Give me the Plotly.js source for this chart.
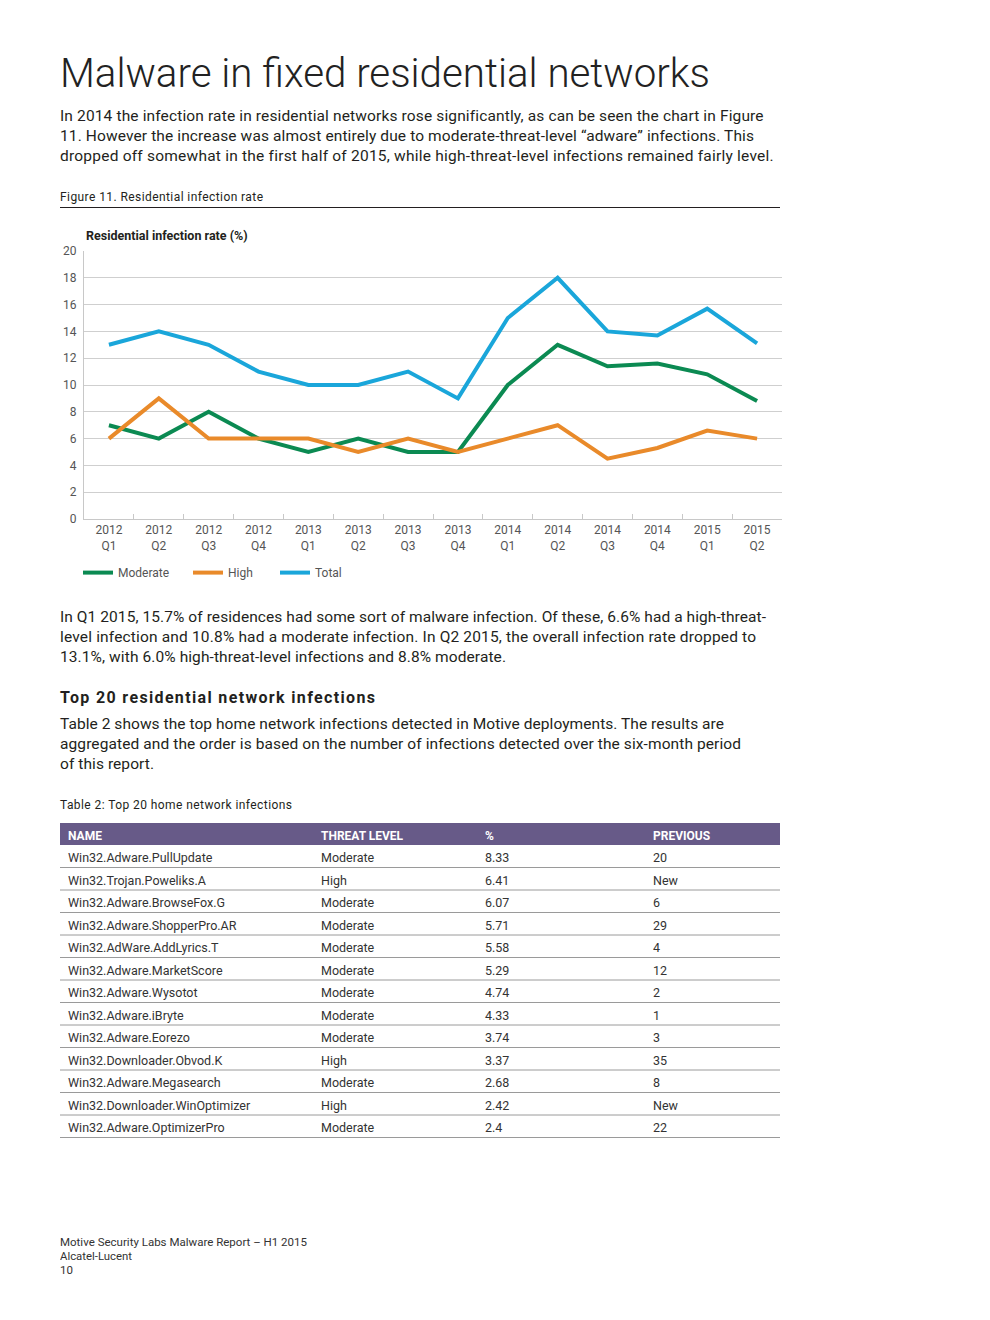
<!DOCTYPE html>
<html><head><meta charset="utf-8">
<script src="https://cdn.plot.ly/plotly-3.0.1.min.js"></script>
<style>
html,body{margin:0;padding:0;background:#fff;}
#page{position:relative;width:990px;height:1320px;overflow:hidden;font-family:Roboto,"Noto Sans",sans-serif;color:#231f20;}
.ln{position:absolute;white-space:nowrap;display:inline-block;transform-origin:0 50%;}
.body{font-size:15.5px;line-height:20px;height:20px;}
.cap{font-size:12px;line-height:16px;height:16px;color:#231f20;}
.foot{font-size:11.5px;line-height:14px;height:14px;color:#333;}
#chart{position:absolute;left:0;top:220px;width:990px;height:370px;}
#table{position:absolute;left:0;top:815px;width:990px;height:330px;}
</style></head>
<body><div id="page">
<div class="ln" style="left:60px;top:49px;font-size:41px;line-height:48px;font-weight:300;color:#222;" data-w="650">Malware in fixed residential networks</div>
<div class="ln body" style="left:60px;top:106px;" data-w="703">In 2014 the infection rate in residential networks rose significantly, as can be seen the chart in Figure</div>
<div class="ln body" style="left:60px;top:126px;" data-w="694">11. However the increase was almost entirely due to moderate-threat-level “adware” infections. This</div>
<div class="ln body" style="left:60px;top:146px;" data-w="713">dropped off somewhat in the first half of 2015, while high-threat-level infections remained fairly level.</div>
<div class="ln cap" style="left:60px;top:189px;" data-w="203">Figure 11. Residential infection rate</div>
<div style="position:absolute;left:60px;top:207px;width:720px;height:1px;background:#231f20;"></div>
<div id="chart"></div>
<div class="ln body" style="left:60px;top:607px;" data-w="706">In Q1 2015, 15.7% of residences had some sort of malware infection. Of these, 6.6% had a high-threat-</div>
<div class="ln body" style="left:60px;top:627px;" data-w="696">level infection and 10.8% had a moderate infection. In Q2 2015, the overall infection rate dropped to</div>
<div class="ln body" style="left:60px;top:647px;" data-w="446">13.1%, with 6.0% high-threat-level infections and 8.8% moderate.</div>
<div class="ln body" style="left:60px;top:688px;font-weight:700;font-size:16px;" data-w="315">Top 20 residential network infections</div>
<div class="ln body" style="left:60px;top:714px;" data-w="664">Table 2 shows the top home network infections detected in Motive deployments. The results are</div>
<div class="ln body" style="left:60px;top:734px;" data-w="681">aggregated and the order is based on the number of infections detected over the six-month period</div>
<div class="ln body" style="left:60px;top:754px;" data-w="94">of this report.</div>
<div class="ln cap" style="left:60px;top:797px;" data-w="232">Table 2: Top 20 home network infections</div>
<div id="table"></div>
<div class="ln foot" style="left:60px;top:1235px;" data-w="247">Motive Security Labs Malware Report – H1 2015</div>
<div class="ln foot" style="left:60px;top:1249px;" data-w="72">Alcatel-Lucent</div>
<div class="ln foot" style="left:60px;top:1263px;" data-w="13">10</div>
</div>
<script>
// ---- chart data ----
const quarters = ['2012<br>Q1','2012<br>Q2','2012<br>Q3','2012<br>Q4','2013<br>Q1','2013<br>Q2','2013<br>Q3','2013<br>Q4','2014<br>Q1','2014<br>Q2','2014<br>Q3','2014<br>Q4','2015<br>Q1','2015<br>Q2'];
const moderate = [7, 6, 8, 6, 5, 6, 5, 5, 10, 13, 11.4, 11.6, 10.8, 8.8];
const high     = [6, 9, 6, 6, 6, 5, 6, 5, 6, 7, 4.5, 5.3, 6.6, 6.0];
const total    = [13, 14, 13, 11, 10, 10, 11, 9, 15, 18, 14, 13.7, 15.7, 13.1];
const seriesNames = ['Moderate','High','Total'];
const yTicks = [0,2,4,6,8,10,12,14,16,18,20];
const chartTitle = 'Residential infection rate (%)';

// ---- table data ----
const tableHeader = ['NAME','THREAT LEVEL','%','PREVIOUS'];
const names = ['Win32.Adware.PullUpdate','Win32.Trojan.Poweliks.A','Win32.Adware.BrowseFox.G','Win32.Adware.ShopperPro.AR','Win32.AdWare.AddLyrics.T','Win32.Adware.MarketScore','Win32.Adware.Wysotot','Win32.Adware.iBryte','Win32.Adware.Eorezo','Win32.Downloader.Obvod.K','Win32.Adware.Megasearch','Win32.Downloader.WinOptimizer','Win32.Adware.OptimizerPro'];
const threat = ['Moderate','High','Moderate','Moderate','Moderate','Moderate','Moderate','Moderate','Moderate','High','Moderate','High','Moderate'];
const pct = ['8.33','6.41','6.07','5.71','5.58','5.29','4.74','4.33','3.74','3.37','2.68','2.42','2.4'];
const previous = ['20','New','6','29','4','12','2','1','3','35','8','New','22'];

const colors = ['#0b8a52','#e98a2a','#1aa6da'];
const font = 'Roboto, "Noto Sans", sans-serif';
const series = [moderate, high, total];
const legendIds = ['legend','legend2','legend3'];
const legendX = [-0.0086, 0.149, 0.2736];

const traces = series.map((vals, i) => ({
  type:'scatter', mode:'lines', x:quarters, y:vals, name:seriesNames[i],
  line:{color:colors[i], width:4}, legend:legendIds[i], hoverinfo:'skip'
}));

const layout = {
  width:990, height:370,
  margin:{l:84, r:208, t:31, b:71, autoexpand:false},
  paper_bgcolor:'#fff', plot_bgcolor:'#fff',
  font:{family:font, size:12, color:'#555'},
  showlegend:true,
  xaxis:{type:'category', range:[-0.5, quarters.length-0.5], showgrid:false, zeroline:false,
    showline:true, linecolor:'#c8c8c8', linewidth:1, ticks:'inside', tickson:'boundaries',
    ticklen:5, tickcolor:'#c8c8c8', tickfont:{size:12, color:'#555'}, fixedrange:true, automargin:false},
  yaxis:{range:[0,20], tickvals:yTicks, showgrid:true, gridcolor:'#cfcfcf', gridwidth:1,
    zeroline:false, showline:true, linecolor:'#c8c8c8', ticks:'', ticklabelstandoff:4,
    tickfont:{size:12, color:'#555'}, fixedrange:true, automargin:false},
  annotations:[{text:'<b>'+chartTitle+'</b>', xref:'paper', yref:'paper', x:0, y:1.056,
    xanchor:'left', yanchor:'middle', showarrow:false, font:{size:12.5, color:'#231f20', family:font}}]
};
legendIds.forEach((id, i) => {
  layout[id] = {orientation:'h', x:legendX[i], xanchor:'left', y:-0.2, yanchor:'middle',
    bgcolor:'rgba(0,0,0,0)', font:{size:12, color:'#555', family:font}, itemwidth:30};
});
Plotly.newPlot('chart', traces, layout, {displayModeBar:false, staticPlot:true});

// ---- table ----
const headerH = 22, rowH = 22.5;
const tMargin = {l:60, r:210, t:8, b:0, autoexpand:false};
const tH = 330, plotH = tH - tMargin.t - tMargin.b;
const shapes = names.map((_, i) => {
  const yy = 1 - (headerH + (i+1)*rowH)/plotH;
  return {type:'line', xref:'paper', yref:'paper', x0:0, x1:1, y0:yy, y1:yy,
    line:{color:'#9a9a9a', width:1}};
});
Plotly.newPlot('table', [{
  type:'table', columnwidth:[253,164,168,135],
  header:{values:tableHeader, align:'left', height:headerH,
    fill:{color:'#675a88'}, line:{color:'#675a88', width:0},
    font:{family:font, size:12, color:'#fff', weight:700}},
  cells:{values:[names, threat, pct, previous], align:'left', height:rowH,
    fill:{color:'#fff'}, line:{color:'rgba(255,255,255,0)', width:0},
    font:{family:font, size:12.5, color:'#333'}}
}], {width:990, height:tH, margin:tMargin, paper_bgcolor:'rgba(0,0,0,0)', shapes:shapes},
{displayModeBar:false, staticPlot:true});

// ---- fit prose lines to reference widths ----
function fit(){
  document.querySelectorAll('.ln').forEach(el => {
    el.style.transform=''; el.style.letterSpacing='';
    const target = +el.dataset.w, nat = el.getBoundingClientRect().width;
    if (!target || !nat) return;
    if (nat > target) el.style.transform = 'scaleX(' + (target/nat) + ')';
    else el.style.letterSpacing = ((target - nat)/Math.max(1, el.textContent.length-1)) + 'px';
  });
}
fit();
if (document.fonts && document.fonts.ready) document.fonts.ready.then(fit);
</script>
</body></html>
